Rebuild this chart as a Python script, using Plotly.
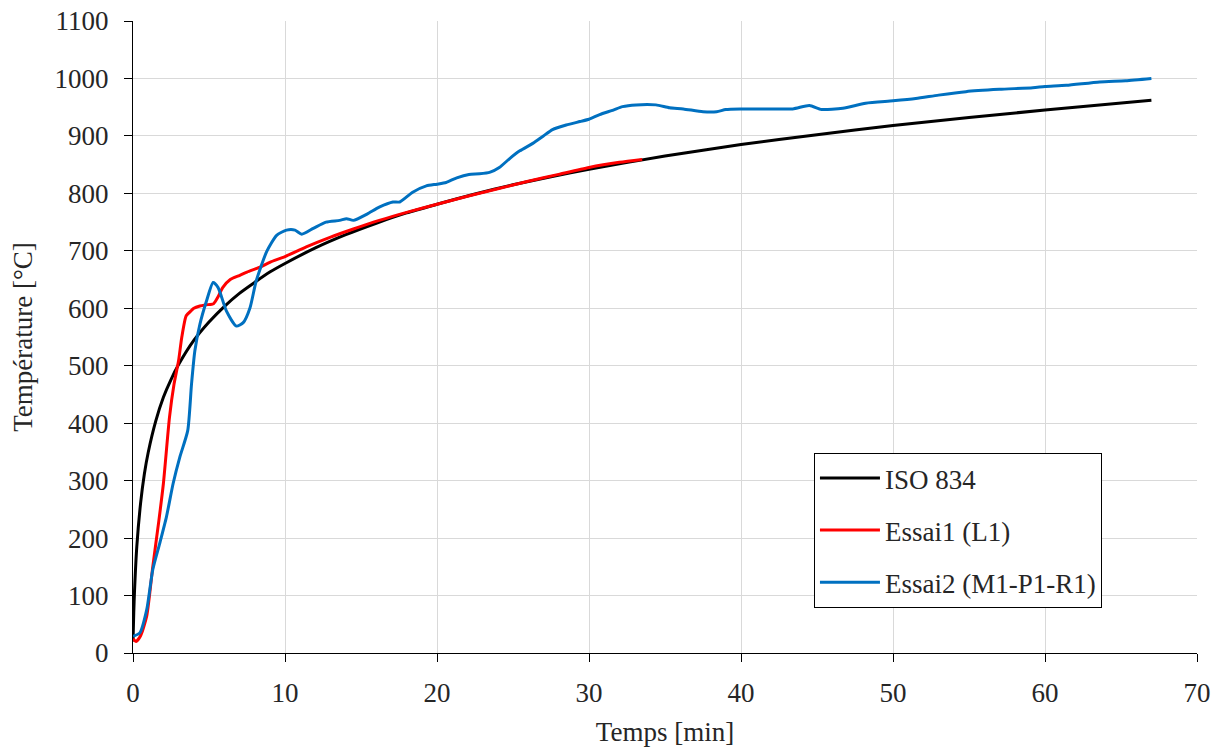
import plotly.graph_objects as go

# ISO 834 standard curve
iso_t = [0, 0.05, 0.1, 0.25, 0.5, 0.75, 1, 1.5, 2, 2.5, 3, 4, 5, 6, 7, 8, 9, 10, 12, 14, 16, 18, 20,
         22.5, 25, 27.5, 30, 35, 40, 45, 50, 55, 60, 67]
iso_T = [20, 70, 108, 185, 261, 312, 349, 404, 445, 476, 502, 544, 576, 603, 626, 645, 663, 678, 705,
         728, 748, 766, 781, 799, 815, 829, 842, 865, 885, 902, 918, 932, 945, 962]

# Essai1 (L1)
e1_t = [0, 0.2, 0.5, 0.9, 1.3, 1.7, 2.0, 2.4, 2.7, 3.0, 3.2, 3.5, 3.8, 4.0, 4.4, 4.8, 5.3, 5.6, 5.9,
        6.4, 7.0, 7.5, 8.4, 9.0, 10.0, 11.4, 13.0, 14.5, 16.2, 18, 20, 22, 24, 26, 28, 30, 32, 33.5]
e1_T = [25, 20, 30, 64, 150, 230, 295, 410, 468, 509, 548, 587, 595, 600, 604, 606, 608, 620, 636,
        650, 657, 663, 672, 680, 690, 707, 724, 738, 753, 767, 781, 795, 808, 821, 833, 845, 854, 859]

# Essai2 (M1-P1-R1)
e2_t = [0, 0.45, 0.9, 1.3, 1.75, 2.2, 2.64, 3.08, 3.6, 3.85, 4.07, 4.4, 4.84, 5.27, 5.6, 6.15, 6.8,
        7.25, 7.7, 8.1, 8.8, 9.45, 10.1, 10.66, 11.1, 11.86, 12.7, 13.6, 14.05, 14.5, 15.4, 16.2,
        17.1, 17.55, 18.4, 19.3, 20.0, 20.6, 21.3, 22.1, 22.8, 23.5, 24.1, 24.8, 25.45, 26.3, 27.0,
        27.6, 28.5, 29.4, 30, 30.7, 31.6, 32.2, 33.1, 34.4, 35.3, 36.2, 37.5, 38.4, 39.0, 40, 41.6,
        43.4, 44.5, 45.3, 46.7, 48.2, 50, 51.5, 53.0, 54.8, 57.0, 59.2, 60, 61.4, 63.6, 65.3, 67.0]
e2_T = [29, 35, 75, 145, 190, 237, 295, 341, 387, 468, 526, 572, 613, 645, 636, 595, 569,
        575, 601, 647, 699, 727, 736, 736, 729, 739, 750, 753, 756, 753, 764, 776,
        785, 785, 802, 813, 816, 819, 827, 833, 834, 837, 845, 861, 874, 887, 900,
        911, 919, 925, 929, 937, 945, 951, 954, 954, 949, 947, 942, 942, 946, 947, 947,
        947, 953, 946, 948, 957, 961, 965, 971, 977, 981, 984, 986, 988, 994, 996, 1000]

names = ["ISO 834", "Essai1 (L1)", "Essai2 (M1-P1-R1)"]
colors = ["#000000", "#FF0000", "#0070C0"]

FONT = "Liberation Serif"
TXT = "#262626"
FS = 27

fig = go.Figure()
for i, (tx, ty) in enumerate([(iso_t, iso_T), (e1_t, e1_T), (e2_t, e2_T)]):
    fig.add_trace(go.Scatter(x=tx, y=ty, mode="lines", name=names[i], legendgroup=f"g{i}",
                             line=dict(color=colors[i], width=3, shape="spline", smoothing=0.6)))

fig.update_layout(
    width=1223, height=751,
    margin=dict(l=133, r=26, t=21, b=98),
    plot_bgcolor="white", paper_bgcolor="white",
    font=dict(family=FONT, size=FS, color=TXT),
    showlegend=True,
    legend=dict(x=0.640, y=0.3165, xanchor="left", yanchor="top",
                bordercolor="#000000", borderwidth=1, bgcolor="white",
                font=dict(family=FONT, size=FS, color=TXT),
                tracegroupgap=14, itemwidth=60),
)
fig.update_xaxes(range=[0, 70], dtick=10, showline=True, linecolor="#000000", linewidth=1,
                 ticks="outside", ticklen=8, tickcolor="#000000", showgrid=True,
                 gridcolor="#D9D9D9", gridwidth=1, zeroline=False, ticklabelstandoff=8,
                 automargin=False,
                 title=dict(text="Temps [min]", standoff=14, font=dict(size=FS)))
fig.update_yaxes(range=[0, 1100], dtick=100, showline=True, linecolor="#000000", linewidth=1,
                 ticks="outside", ticklen=8, tickcolor="#000000", showgrid=True,
                 gridcolor="#D9D9D9", gridwidth=1, zeroline=False, ticklabelstandoff=10,
                 automargin=False,
                 title=dict(text="Température [°C]", standoff=14, font=dict(size=FS)))

# remove the browser's default 8px body margin so the figure fills the window exactly
fig.write_html("out.html", config={"displayModeBar": False},
               post_script="document.body.style.margin='0';")
